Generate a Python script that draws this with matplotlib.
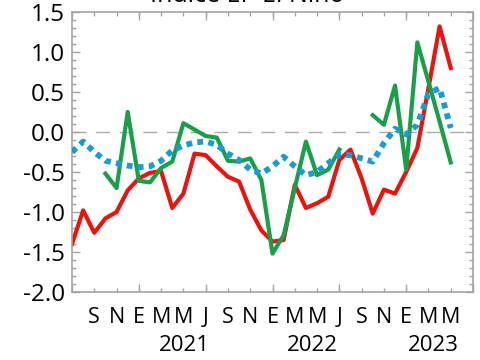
import numpy as np
import matplotlib.pyplot as plt
from matplotlib.ticker import MultipleLocator
import matplotlib.transforms as mtransforms

plt.rcParams['font.family'] = ['Open Sans', 'DejaVu Sans']

# monthly values, Jul 2020 .. May 2023 (index 0 = Jul 2020)
red = [-1.40, -0.98, -1.26, -1.08, -1.00, -0.73, -0.58, -0.51, -0.49, -0.95,
       -0.77, -0.27, -0.29, -0.43, -0.56, -0.62, -0.97, -1.23, -1.37, -1.35,
       -0.66, -0.95, -0.89, -0.81, -0.35, -0.22, -0.58, -1.02, -0.72, -0.77,
       -0.50, -0.20, 0.55, 1.32, 0.80]
green = [np.nan, np.nan, np.nan, -0.52, -0.70, 0.25, -0.61, -0.63, -0.45, -0.37,
         0.11, 0.03, -0.05, -0.07, -0.36, -0.37, -0.33, -0.60, -1.52, -1.29,
         -0.70, -0.12, -0.54, -0.47, -0.22, np.nan, np.nan, 0.21, 0.09, 0.58,
         -0.47, 1.12, 0.63, 0.13, -0.38]
blue = [-0.25, -0.12, -0.25, -0.36, -0.39, -0.42, -0.44, -0.43, -0.36, -0.23,
        -0.17, -0.13, -0.12, -0.16, -0.27, -0.35, -0.47, -0.52, -0.43, -0.31,
        -0.43, -0.54, -0.50, -0.39, -0.28, -0.29, -0.33, -0.37, -0.14, 0.04,
        -0.03, 0.09, 0.48, 0.55, 0.05]
month_labels = ['S', 'N', 'E', 'M', 'M', 'J', 'S', 'N', 'E', 'M', 'M', 'J',
                'S', 'N', 'E', 'M', 'M']
years = ['2021', '2022', '2023']
year_pos = [10.1, 21.6, 32.4]

months = np.arange(len(red))
grey = '#a4a4a4'

fig = plt.figure(figsize=(4.81, 3.6), dpi=100)
ax = fig.add_axes([0.1497, 0.1889, 0.8337, 0.7778])

ax.axhline(0, color='#ababab', lw=1.0, dashes=(10, 7), zorder=1)
ax.plot(months, red, color='#e8140f', lw=3.0, zorder=2)
ax.plot(months, green, color='#18a049', lw=3.0, zorder=3)
ax.plot(months, blue, color='#1e9ad0', lw=4.2, dashes=(1, 0.9), zorder=4)

ax.set_xlim(0, 36)
ax.set_ylim(-2.0, 1.5)

ax.set_yticks(np.arange(-2.0, 1.51, 0.5))
ax.set_yticklabels(['%.1f' % v for v in np.arange(-2.0, 1.51, 0.5)])
ax.yaxis.set_minor_locator(MultipleLocator(0.1))

ax.set_xticks(np.arange(0, 37, 6))
ax.set_xticklabels([''] * 7)
ax.set_xticks(np.arange(2, 35, 2), minor=True)
ax.set_xticklabels(month_labels, minor=True)
ax.xaxis.remove_overlapping_locs = False

ax.tick_params(which='both', direction='in', top=True, right=True, color=grey,
               labelsize=17.5, width=1.0)
ax.tick_params(which='major', length=6)
ax.tick_params(which='minor', length=3)
ax.tick_params(axis='x', which='minor', pad=11, labelsize=15.5)
ax.tick_params(axis='y', pad=5)

for s in ax.spines.values():
    s.set_color(grey)
    s.set_linewidth(1.2)

trans = mtransforms.blended_transform_factory(ax.transData, ax.transAxes)
for yr, xp in zip(years, year_pos):
    ax.text(xp, -0.19, yr, transform=trans, ha='center', va='center', fontsize=16)

fig.text(0.513, 0.994, 'Indice EP El Niño', ha='center', va='baseline', fontsize=18)

fig.savefig('out.png', dpi=100)
